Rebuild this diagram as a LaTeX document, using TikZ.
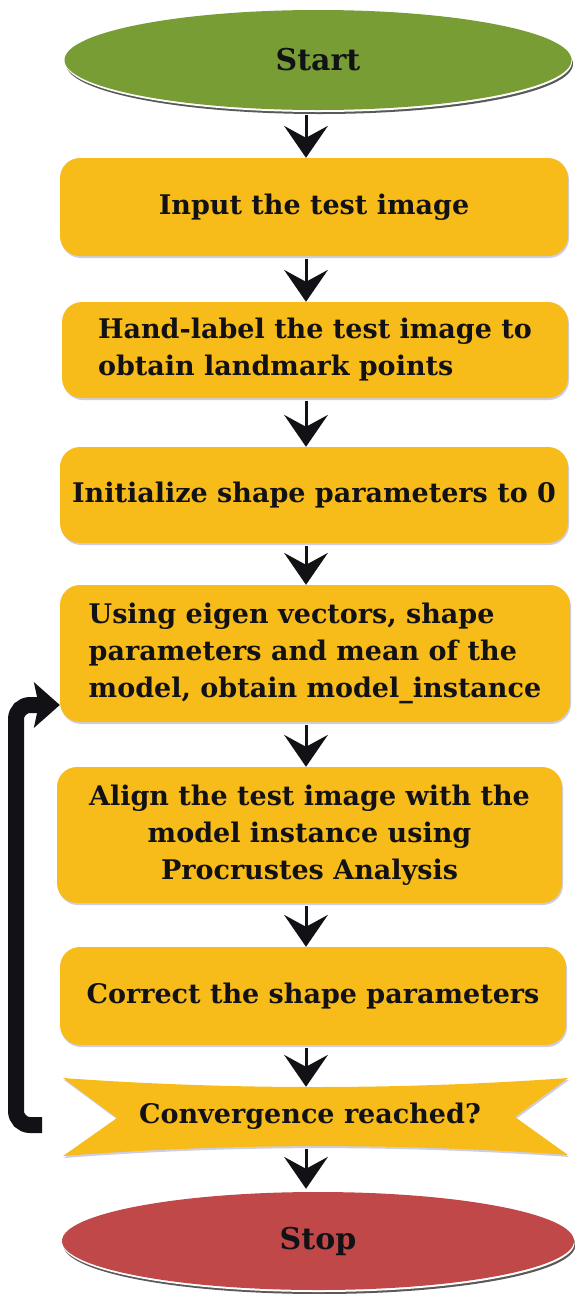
\documentclass[tikz,border=0pt]{standalone}
\usepackage{fontspec}
\setmainfont{DejaVu Serif}
\usetikzlibrary{arrows.meta,shapes.geometric,shadows,calc}
\definecolor{startgreen}{RGB}{119,157,52}
\definecolor{stepyellow}{RGB}{247,188,26}
\definecolor{stopred}{RGB}{192,72,73}
\definecolor{inkblack}{RGB}{18,18,22}

\begin{document}
\begin{tikzpicture}[x=1pt,y=-1pt,
  terminal/.style={ellipse, inner sep=0pt, text=inkblack,
    font=\fontsize{30}{34}\selectfont\bfseries,
    general shadow={fill=gray!70!black, shadow yshift=-4pt, shadow xshift=1.5pt},
    general shadow={fill=white, shadow yshift=-2pt, shadow xshift=0.5pt}},
  steptext/.style={text=inkblack, font=\fontsize{27}{37}\selectfont\bfseries},
  stepbox/.style={rectangle, rounded corners=20pt, fill=stepyellow, inner sep=0pt, steptext,
    drop shadow={shadow xshift=1pt, shadow yshift=-2pt, opacity=0.3, fill=blue!30!gray}},
  flow/.style={line width=3pt, inkblack,
    -{Stealth[length=32pt,width=44pt,inset=12pt,line width=0pt]}},
  back/.style={line width=16pt, inkblack, rounded corners=14pt,
    -{Stealth[length=26pt,width=46pt,inset=5pt,line width=0pt]}}
]
\useasboundingbox (0,0) rectangle (575,1294);

% terminals and process steps
\node[terminal, fill=startgreen, minimum width=507pt, minimum height=100pt] (start) at (318,60) {Start};
\node[stepbox, minimum width=508pt, minimum height=98pt] (b1) at (314,207) {Input the test image};
\node[stepbox, minimum width=506pt, minimum height=96pt, align=left] (b2) at (315,350)
  {Hand-label the test image to\\obtain landmark points};
\node[stepbox, minimum width=508pt, minimum height=96pt] (b3) at (314,495) {Initialize shape parameters to 0};
\node[stepbox, minimum width=510pt, minimum height=137pt, align=left] (b4) at (315,653.5)
  {Using eigen vectors, shape\\parameters and mean of the\\model, obtain model\_instance};
\node[stepbox, minimum width=505pt, minimum height=136pt, align=center] (b5) at (309.5,835)
  {Align the test image with the\\model instance using\\Procrustes Analysis};
\node[stepbox, minimum width=506pt, minimum height=98pt] (b6) at (313,996) {Correct the shape parameters};

% decision ribbon
\fill[stepyellow, drop shadow={shadow xshift=1pt, shadow yshift=-2pt, opacity=0.3, fill=blue!30!gray}]
  (63,1078) .. controls (230,1090) and (400,1090) .. (568,1078)
  -- (515,1117) -- (568,1155)
  .. controls (400,1143) and (230,1143) .. (63,1156)
  -- (117,1118) -- cycle;
\node[minimum width=505pt, minimum height=59pt, inner sep=0pt, steptext] (conv) at (310,1116.5)
  {Convergence reached?};

\node[terminal, fill=stopred, minimum width=512pt, minimum height=98pt] (stop) at (318,1241) {Stop};

% main flow
\coordinate (ax) at (306,0);
\draw[flow, shorten <=5pt] (start.south -| ax) -- (b1.north -| ax);
\draw[flow, shorten <=3pt] (b1.south -| ax) -- (b2.north -| ax);
\draw[flow, shorten <=3pt] (b2.south -| ax) -- (b3.north -| ax);
\draw[flow, shorten <=3pt] (b3.south -| ax) -- (b4.north -| ax);
\draw[flow, shorten <=3pt] (b4.south -| ax) -- (b5.north -| ax);
\draw[flow, shorten <=3pt] (b5.south -| ax) -- (b6.north -| ax);
\draw[flow, shorten <=3pt] (b6.south -| ax) -- (conv.north -| ax);
\draw[flow, shorten <=3pt, shorten >=3pt] (conv.south -| ax) -- (stop.north -| ax);

% loop back when not converged
\coordinate (loopfrom) at (42,1125);
\draw[back] (loopfrom) -- (16,1125) -- (16,705) -- ($(b4.west)+(0,51.5)$);
\end{tikzpicture}
\end{document}
